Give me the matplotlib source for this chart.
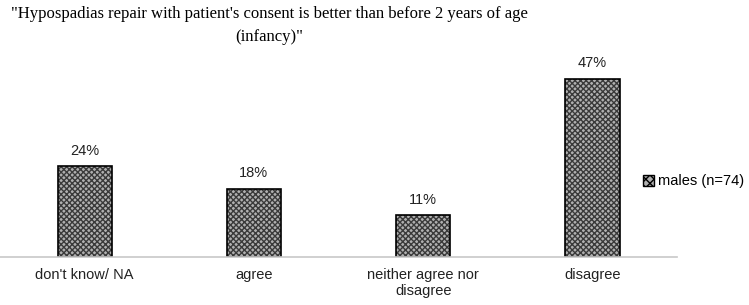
import matplotlib.pyplot as plt
from matplotlib.patches import Patch

categories = ["don't know/ NA", "agree", "neither agree nor\ndisagree", "disagree"]
values = [24, 18, 11, 47]
series_name = "males (n=74)"
title = "\"Hypospadias repair with patient's consent is better than before 2 years of age\n(infancy)\""

fig = plt.figure(figsize=(7.49, 3.05), dpi=100)
ax = fig.add_axes([0.0, 0.157, 0.904, 0.623])

x = range(len(categories))
# hatched gray fill, then black outline on top
ax.bar(x, values, width=0.32, color='#b0b0b0', edgecolor='#3a3a3a', hatch='xxxxxx', linewidth=0)
ax.bar(x, values, width=0.32, fill=False, edgecolor='black', linewidth=1.2)

for xi, v in zip(x, values):
    ax.text(xi, v + 2.2, f"{v}%", ha='center', va='bottom', fontsize=10.5,
            family='Liberation Sans', color='#222222')

ax.set_xlim(-0.5, 3.5)
ax.set_ylim(0, 50)
ax.set_xticks(list(x))
ax.set_xticklabels(categories, family='Liberation Sans', fontsize=10.5, color='#222222')
ax.tick_params(axis='x', length=0, pad=8)
ax.set_yticks([])
for s in ['top', 'right', 'left']:
    ax.spines[s].set_visible(False)
ax.spines['bottom'].set_color('#c8c8c8')
ax.spines['bottom'].set_linewidth(1.2)

handle = Patch(facecolor='#b0b0b0', edgecolor='black', hatch='xxxx')
fig.legend([handle], [series_name], loc='center left', bbox_to_anchor=(0.858, 0.405),
           frameon=False, handlelength=0.8, handleheight=0.8, handletextpad=0.25,
           borderpad=0, borderaxespad=0,
           prop={'family': 'Liberation Sans', 'size': 10.5})

fig.text(0.36, 0.98, title, ha='center', va='top', fontsize=12,
         family='Liberation Serif', linespacing=1.6)

fig.savefig('out.png', dpi=100)
